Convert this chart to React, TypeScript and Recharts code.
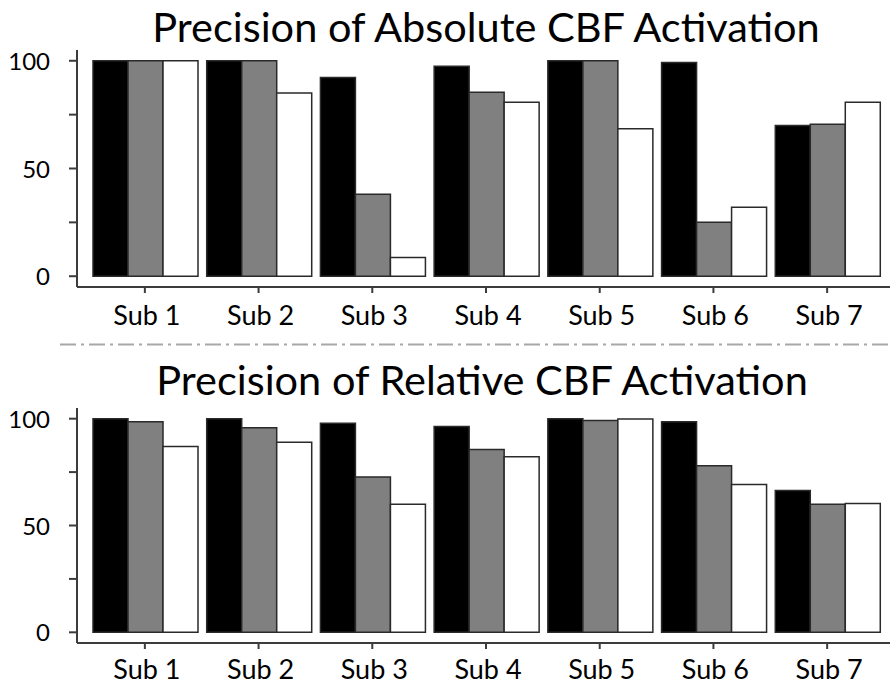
import React from "react";
import { BarChart, Bar, XAxis, YAxis } from "recharts";

const subjects = ["Sub 1", "Sub 2", "Sub 3", "Sub 4", "Sub 5", "Sub 6", "Sub 7"];

// absolute CBF activation precision (%)
const absBlack = [100, 100, 92.2, 97.4, 100, 99.2, 69.9];
const absGray = [100, 100, 38, 85.4, 100, 25, 70.5];
const absWhite = [100, 85, 8.7, 80.8, 68.5, 32, 80.8];

// relative CBF activation precision (%)
const relBlack = [100, 100, 97.9, 96.3, 100, 98.6, 66.4];
const relGray = [98.6, 95.8, 72.7, 85.6, 99.2, 78, 59.9];
const relWhite = [87, 89, 59.9, 82.2, 99.8, 69.2, 60.3];

const yTicks = [0, 25, 50, 75, 100];
const yLabelled = [0, 50, 100];

const FONT = "Lato, 'Open Sans', sans-serif";
const AXIS = "#3c3c3c";

function buildRows(a: number[], b: number[], c: number[]) {
  return subjects.map((name, i) => ({ name, a: a[i], b: b[i], c: c[i] }));
}

function YTick({ x, y, payload }: any) {
  if (!yLabelled.includes(payload.value)) return <g />;
  return (
    <text x={x} y={y} dy={9} textAnchor="end" fontSize={24} fontFamily={FONT} fill="#000">
      {payload.value}
    </text>
  );
}

function makeXTick(dy: number) {
  return ({ x, y, payload }: any) => (
    <text x={x + 2} y={y} dy={dy} textAnchor="middle" fontSize={27} fontFamily={FONT} fill="#000">
      {payload.value}
    </text>
  );
}

type PanelProps = {
  rows: { name: string; a: number; b: number; c: number }[];
  height: number;
  xAxisHeight: number;
  bottom: number;
  labelDy: number;
};

function Panel({ rows, height, xAxisHeight, bottom, labelDy }: PanelProps) {
  const bar = { stroke: "#2a2a2a", strokeWidth: 1.5, isAnimationActive: false };
  return (
    <BarChart
      width={890}
      height={height}
      data={rows}
      margin={{ top: 50, right: 0, left: 10, bottom }}
      barCategoryGap={5}
      barGap={0}
    >
      <XAxis
        dataKey="name"
        padding={{ left: 11, right: 6 }}
        height={xAxisHeight}
        stroke={AXIS}
        strokeWidth={2}
        tickSize={6}
        tickLine={{ stroke: AXIS, strokeWidth: 2 }}
        tick={makeXTick(labelDy)}
        interval={0}
      />
      <YAxis
        width={67}
        domain={[-5, 105]}
        ticks={yTicks}
        allowDataOverflow
        stroke={AXIS}
        strokeWidth={2}
        tickSize={8}
        tickMargin={19}
        tickLine={{ stroke: AXIS, strokeWidth: 2 }}
        tick={<YTick />}
      />
      <Bar dataKey="a" fill="#000000" {...bar} />
      <Bar dataKey="b" fill="#808080" {...bar} />
      <Bar dataKey="c" fill="#ffffff" {...bar} />
    </BarChart>
  );
}

export default function App() {
  return (
    <div style={{ position: "absolute", left: 0, top: 0, width: 890, height: 684, background: "#fff" }}>
      <div style={{ position: "absolute", left: 0, top: 0 }}>
        <Panel rows={buildRows(absBlack, absGray, absWhite)} height={340} xAxisHeight={40} bottom={13} labelDy={30} />
      </div>
      <div style={{ position: "absolute", left: 0, top: 358 }}>
        <Panel rows={buildRows(relBlack, relGray, relWhite)} height={326} xAxisHeight={30} bottom={11} labelDy={28} />
      </div>
      <svg width={890} height={684} style={{ position: "absolute", left: 0, top: 0, pointerEvents: "none" }}>
        <text x={486} y={42} textAnchor="middle" fontSize={41.5} fontFamily={FONT} fill="#000">
          Precision of Absolute CBF Activation
        </text>
        <line x1={60} y1={344.5} x2={890} y2={344.5} stroke="#a8a8a8" strokeWidth={2} strokeDasharray="16 5 3 5" />
        <text x={482} y={395} textAnchor="middle" fontSize={41.5} fontFamily={FONT} fill="#000">
          Precision of Relative CBF Activation
        </text>
      </svg>
    </div>
  );
}
